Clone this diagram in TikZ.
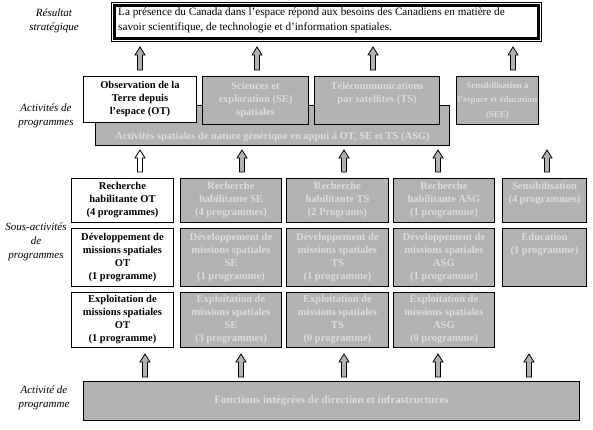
\documentclass[tikz,border=0pt]{standalone}
\usepackage{fontspec}
\setmainfont{Liberation Serif}
\usetikzlibrary{calc}
\definecolor{boxgray}{HTML}{B2B2B2}
\definecolor{txtgray}{HTML}{DCDCDC}
\newcommand\blkarrow[4]{%
  \draw[line width=0.8pt, fill=#4] (#1-2.5,#2) -- (#1+2.5,#2) -- (#1+2.5,#3+8) -- (#1+5,#3+8) -- (#1,#3) -- (#1-5,#3+8) -- (#1-2.5,#3+8) -- cycle;}
\begin{document}
\begin{tikzpicture}[x=1pt,y=-1pt,
  box/.style={draw=black, line width=0.9pt, rectangle, inner sep=0pt, anchor=north west, align=center, font=\fontsize{10.5}{13}\selectfont\bfseries},
  wbox/.style={box, fill=white, text=black},
  gbox/.style={box, fill=boxgray, text=txtgray},
  gtxt/.style={text=txtgray, inner sep=0pt, font=\fontsize{10.5}{13}\selectfont\bfseries},
  lab/.style={align=center, inner sep=0pt, font=\fontsize{11}{14}\selectfont\itshape},
  c1/.style={minimum width=102},
  c2/.style={minimum width=101},
  c3/.style={minimum width=102},
  c4/.style={minimum width=101},
  c5/.style={minimum width=84},
]
\useasboundingbox (0,0) rectangle (593,429);

% left labels
\node[lab] (l1) at (54,21) {Résultat\\stratégique};
\node[lab] (l2) at (46,116) {Activités de\\programmes};
\node[lab] (l3) at (36,242) {Sous-activités\\de\\programmes};
\node[lab] (l4) at (44,398) {Activité de\\programme};

% strategic outcome
\node[draw, line width=0.8pt, minimum width=430, minimum height=39, anchor=north west, inner sep=0pt] (res) at (111,2) {};
\draw[line width=2.6pt] ($(res.north west)+(3.5,3.5)$) rectangle ($(res.south east)+(-3.5,-3.5)$);
\node[anchor=north west, align=left, inner sep=0pt, font=\fontsize{11.2}{14.5}\selectfont] (restxt) at (118,8)
  {La présence du Canada dans l’espace répond aux besoins des Canadiens en matière de\\savoir scientifique, de technologie et d’information spatiales.};

% programme activities
\node[gbox, minimum width=354, minimum height=40] (asg) at (95,105) {};
\node[gtxt] (asgtxt) at ($(asg.south)+(0,-9)$) {Activités spatiales de nature générique en appui à OT, SE et TS (ASG)};
\node[wbox, minimum width=113, minimum height=46] (ot) at (83,76) {Observation de la\\Terre depuis\\l'espace (OT)};
\node[gbox, minimum width=106, minimum height=48] (se) at (202,76) {Sciences et\\exploration (SE)\\spatiales};
\node[gbox, minimum width=125, minimum height=48] (ts) at (314,76) {Télécommunications\\par satellites (TS)\\\strut};
\node[gbox, minimum width=82, minimum height=48, font=\fontsize{9}{14.5}\selectfont\bfseries] (see) at (456,76) {Sensibilisation à\\l'espace et éducation\\(SEE)};

% arrows to outcome
\blkarrow{140}{70}{47}{boxgray}
\blkarrow{257}{70}{47}{boxgray}
\blkarrow{373}{70}{47}{boxgray}
\blkarrow{513}{70}{47}{boxgray}

% arrows to activities
\blkarrow{140}{172}{150}{white}
\blkarrow{242}{172}{150}{boxgray}
\blkarrow{344}{172}{150}{boxgray}
\blkarrow{438}{172}{150}{boxgray}
\blkarrow{547}{172}{150}{boxgray}

% sub-activities row 1
\node[wbox, c1, minimum height=44] (r1) at (71,178) {Recherche\\habilitante OT\\(4 programmes)};
\node[gbox, c2, minimum height=44] (r2) at (180,178) {Recherche\\habilitante SE\\(4 programmes)};
\node[gbox, c3, minimum height=44] (r3) at (286,178) {Recherche\\habilitante TS\\(2 Programs)};
\node[gbox, c4, minimum height=44] (r4) at (393,178) {Recherche\\habilitante ASG\\(1 programme)};
\node[gbox, c5, minimum height=44] (r5) at (502,178) {Sensibilisation\\(4 programmes)\\\strut};

% sub-activities row 2
\node[wbox, c1, minimum height=58] (d1) at (71,228) {Développement de\\missions spatiales\\OT\\(1 programme)};
\node[gbox, c2, minimum height=58] (d2) at (180,228) {Développement de\\missions spatiales\\SE\\(1 programme)};
\node[gbox, c3, minimum height=58] (d3) at (286,228) {Développement de\\missions spatiales\\TS\\(1 programme)};
\node[gbox, c4, minimum height=58] (d4) at (393,228) {Développement de\\missions spatiales\\ASG\\(1 programme)};
\node[gbox, c5, minimum height=58] (d5) at (502,228) {Éducation\\(1 programme)\\\strut\\\strut};

% sub-activities row 3
\node[wbox, c1, minimum height=55] (e1) at (71,292) {Exploitation de\\missions spatiales\\OT\\(1 programme)};
\node[gbox, c2, minimum height=55] (e2) at (180,292) {Exploitation de\\missions spatiales\\SE\\(3 programmes)};
\node[gbox, c3, minimum height=55] (e3) at (286,292) {Exploitation de\\missions spatiales\\TS\\(0 programme)};
\node[gbox, c4, minimum height=55] (e4) at (393,292) {Exploitation de\\missions spatiales\\ASG\\(0 programme)};

% arrows from base
\blkarrow{145}{377}{354}{boxgray}
\blkarrow{241}{377}{354}{boxgray}
\blkarrow{344}{377}{354}{boxgray}
\blkarrow{438}{377}{354}{boxgray}
\blkarrow{529}{377}{354}{boxgray}

% base activity
\node[gbox, minimum width=496, minimum height=39, font=\fontsize{11}{13}\selectfont\bfseries] (base) at (83,381) {Fonctions intégrées de direction et infrastructures};
\end{tikzpicture}
\end{document}
